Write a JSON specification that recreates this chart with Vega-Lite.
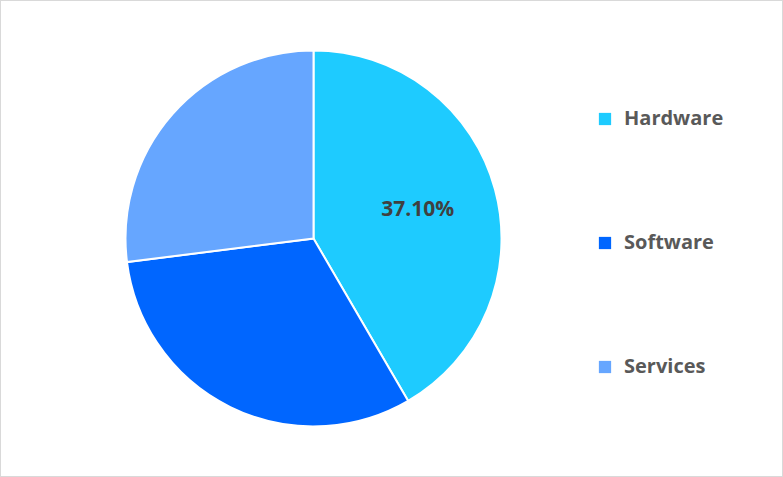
{
  "$schema": "https://vega.github.io/schema/vega-lite/v6.json",
  "width": 783,
  "height": 477,
  "autosize": {"type": "fit", "contains": "padding"},
  "padding": 0,
  "background": "white",
  "config": {
    "view": {"stroke": "#D9D9D9", "strokeWidth": 2},
    "font": "Open Sans"
  },
  "data": {
    "values": [
      {"idx": 1, "category": "Hardware", "share": 41.6, "label": "37.10%"},
      {"idx": 2, "category": "Software", "share": 31.4, "label": ""},
      {"idx": 3, "category": "Services", "share": 27.0, "label": ""}
    ]
  },
  "encoding": {
    "theta": {"field": "share", "type": "quantitative", "stack": true},
    "order": {"field": "idx", "type": "quantitative"},
    "x": {"datum": 0.4004, "type": "quantitative", "scale": {"domain": [0, 1]}, "axis": null},
    "y": {"datum": 0.5, "type": "quantitative", "scale": {"domain": [0, 1]}, "axis": null}
  },
  "layer": [
    {
      "mark": {"type": "arc", "outerRadius": 188, "stroke": "white", "strokeWidth": 2},
      "encoding": {
        "color": {
          "field": "category",
          "type": "nominal",
          "sort": ["Hardware", "Software", "Services"],
          "scale": {"domain": ["Hardware", "Software", "Services"], "range": ["#1ECBFF", "#0066FF", "#66A6FF"]},
          "legend": {
            "title": null,
            "orient": "none",
            "legendX": 595,
            "legendY": 109,
            "symbolType": "square",
            "symbolSize": 150,
            "symbolStrokeWidth": 0,
            "labelFont": "Open Sans",
            "labelFontSize": 20,
            "labelFontWeight": "bold",
            "labelColor": "#595959",
            "labelOffset": 9,
            "rowPadding": 104
          }
        }
      }
    },
    {
      "mark": {"type": "text", "radius": 108, "font": "Open Sans", "fontSize": 21, "fontWeight": "bold", "color": "#404040"},
      "encoding": {
        "text": {"field": "label"}
      }
    }
  ]
}
